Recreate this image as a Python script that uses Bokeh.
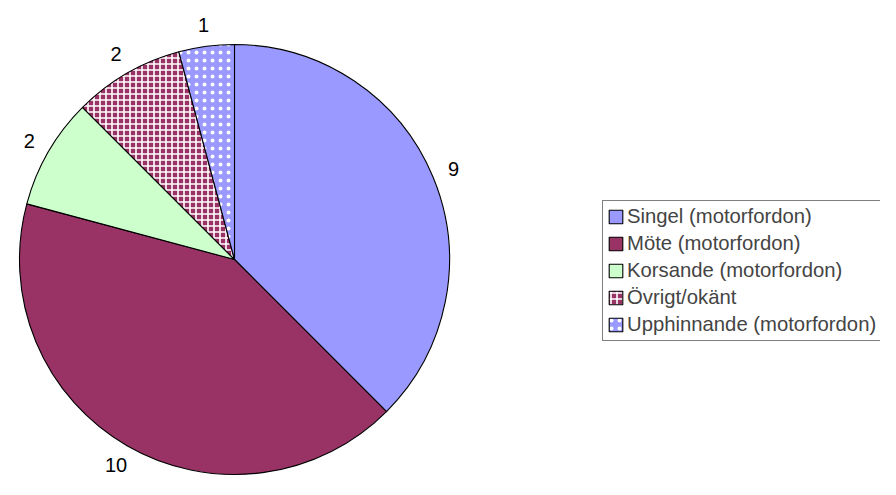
import math
from bokeh.plotting import figure
from bokeh.models import ColumnDataSource, Range1d, Legend, LegendItem
from bokeh.core.properties import value
from bokeh.embed import file_html
from bokeh.resources import INLINE

categories = ["Singel (motorfordon)", "Möte (motorfordon)", "Korsande (motorfordon)",
              "Övrigt/okänt", "Upphinnande (motorfordon)"]
counts = [9, 10, 2, 2, 1]
labels = ["9", "10", "2", "2", "1"]
fill_colors = ["#9999FF", "#993366", "#CCFFCC", "#993366", "#9999FF"]
hatches = [" ", " ", " ", "+", "."]
hatch_scales = [6, 6, 6, 6, 8]
hatch_weights = [1.6, 1.6, 1.6, 1.6, 1.2]

R = 215
total = sum(counts)
cum = 0
starts, ends, lx, ly = [], [], [], []
for c in counts:
    a0 = math.pi / 2 - 2 * math.pi * cum / total
    cum += c
    a1 = math.pi / 2 - 2 * math.pi * cum / total
    starts.append(a1)
    ends.append(a0)
    mid = (a0 + a1) / 2
    rl = R + 22
    lx.append(rl * math.cos(mid))
    ly.append(rl * math.sin(mid))

src = ColumnDataSource(dict(cat=categories, start=starts, end=ends, color=fill_colors,
                            hatch=hatches, hs=hatch_scales, hw=hatch_weights,
                            lx=lx, ly=ly, lab=labels))

W, H = 880, 479
cx, cy = 234, 259  # pixel position of pie centre
p = figure(width=W, height=H, output_backend="svg", toolbar_location=None,
           x_range=Range1d(-cx, W - cx), y_range=Range1d(cy - H, cy),
           min_border=0, outline_line_color=None)
p.axis.visible = False
p.grid.visible = False
p.background_fill_color = "white"

r = p.wedge(x=0, y=0, radius=R, start_angle="start", end_angle="end", source=src,
            fill_color="color", line_color="black", line_width=1.1,
            hatch_pattern="hatch", hatch_color="white", hatch_scale="hs", hatch_weight="hw")

p.text(x="lx", y="ly", text="lab", source=src, text_align="center", text_baseline="middle",
       text_font=value("Liberation Sans"), text_font_size="20px", text_color="black")

items = [LegendItem(label=categories[i], renderers=[r], index=i) for i in range(len(categories))]
legend = Legend(items=items, location=(602, 138), orientation="vertical",
                label_text_font="Liberation Sans", label_text_font_size="20.3px",
                glyph_width=17, glyph_height=17, label_standoff=3, label_height=20,
                spacing=4, padding=4, margin=0,
                border_line_color="black", border_line_width=1, background_fill_alpha=1)
p.add_layout(legend)

open("out.html", "w").write(file_html(p, INLINE))
